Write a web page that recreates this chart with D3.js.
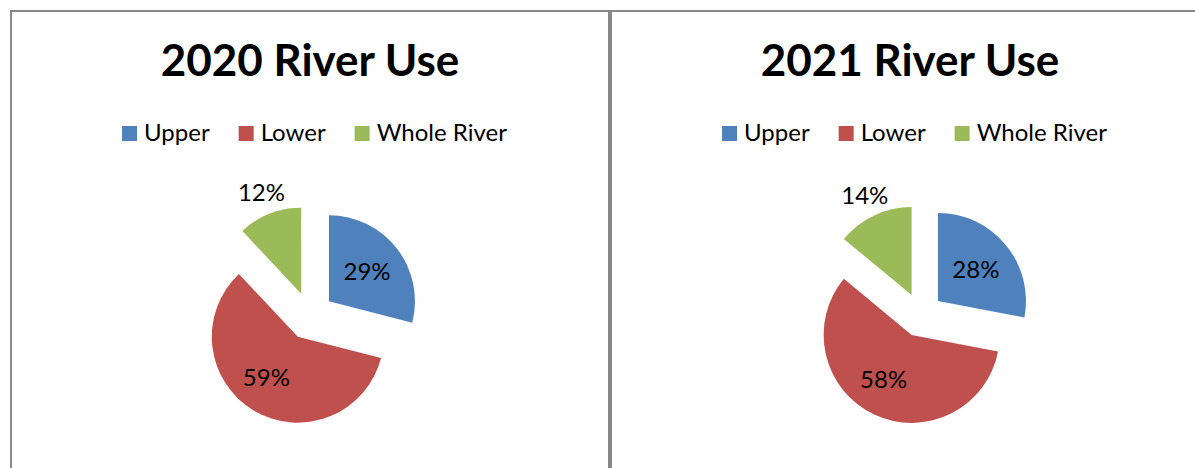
<!DOCTYPE html>
<html>
<head>
<meta charset="utf-8">
<script src="https://cdn.jsdelivr.net/npm/d3@7"></script>
<style>
  body { margin: 0; background: #fff; }
  svg { display: block; font-family: Lato, "Open Sans", sans-serif; }
</style>
</head>
<body>
<svg id="chart" width="1195" height="468"></svg>
<script>
// chart data
var categories = ["Upper", "Lower", "Whole River"];
var years = ["2020", "2021"];
var values2020 = [29, 59, 12];
var values2021 = [28, 58, 14];
var colors = ["#4F81BD", "#C0504D", "#9BBB59"];

const width = 1195;
const height = 468;

var svg = d3.select("#chart");

// one panel per year, placed side by side
var panels = [
    { title: years[0] + " River Use", values: values2020, cx: 300, cy: 316, r: 86, explode: 24 },
    { title: years[1] + " River Use", values: values2021, cx: 311, cy: 315, r: 88, explode: 22 }
];

var panelX = d3.scaleBand()
    .domain(years)
    .range([10, 1210]);

panels.forEach(function(p, idx) {
    var x0 = panelX(years[idx]);
    var g = svg.append("g")
        .attr("transform", "translate(" + x0 + ",0)");

    // chart border
    g.append("rect")
        .attr("x", 1)
        .attr("y", 11)
        .attr("width", panelX.bandwidth() - 2)
        .attr("height", 500)
        .attr("fill", "#fff")
        .attr("stroke", "#878787")
        .attr("stroke-width", 2);

    /**** Title ****/
    g.append("text")
        .attr("x", 300)
        .attr("y", 76)
        .attr("text-anchor", "middle")
        .attr("font-size", 44)
        .attr("font-weight", "bold")
        .attr("fill", "#000")
        .text(p.title);

    /**** Legend ****/
    var legend = g.append("g");
    var cursor = 0;
    categories.forEach(function(c, i) {
        var item = legend.append("g").attr("transform", "translate(" + cursor + ",0)");
        item.append("rect")
            .attr("x", 0)
            .attr("y", 126)
            .attr("width", 15)
            .attr("height", 15)
            .attr("fill", colors[i]);
        var t = item.append("text")
            .attr("x", 22)
            .attr("y", 141)
            .attr("font-size", 24)
            .attr("fill", "#000")
            .text(c);
        cursor += 22 + t.node().getComputedTextLength() + 29;
    });
    var legendWidth = cursor - 29;
    legend.attr("transform", "translate(" + (304.5 - legendWidth / 2) + ",0)");

    /**** Pie ****/
    var pie = d3.pie()
        .sort(null)
        .value(function(d) { return d; });

    var arc = d3.arc()
        .innerRadius(0)
        .outerRadius(p.r);

    var total = d3.sum(p.values);
    var slices = pie(p.values);

    var pieG = g.append("g")
        .attr("transform", "translate(" + p.cx + "," + p.cy + ")");

    var sliceG = pieG.selectAll(".slice")
        .data(slices)
        .enter()
        .append("g")
        .attr("class", "slice")
        .attr("transform", function(d) {
            var mid = (d.startAngle + d.endAngle) / 2;
            return "translate(" + (p.explode * Math.sin(mid)) + "," + (-p.explode * Math.cos(mid)) + ")";
        });

    sliceG.append("path")
        .attr("d", arc)
        .attr("fill", function(d, i) { return colors[i]; });

    // labels: inside for big slices, outside for the small one
    function labelPos(d) {
        var mid = (d.startAngle + d.endAngle) / 2;
        var small = d.data / total < 0.2;
        var big = d.data / total > 0.5;
        var lr = small ? p.r + 22 : p.r * (big ? 0.6 : 0.56);
        var a = big ? mid + 0.12 : mid;
        return [lr * Math.sin(a), -lr * Math.cos(a)];
    }

    sliceG.append("text")
        .attr("text-anchor", "middle")
        .attr("font-size", 24)
        .attr("fill", "#000")
        .attr("x", function(d) { return labelPos(d)[0]; })
        .attr("y", function(d) { return labelPos(d)[1] + 8; })
        .text(function(d) { return Math.round(d.data / total * 100) + "%"; });
});
</script>
</body>
</html>
